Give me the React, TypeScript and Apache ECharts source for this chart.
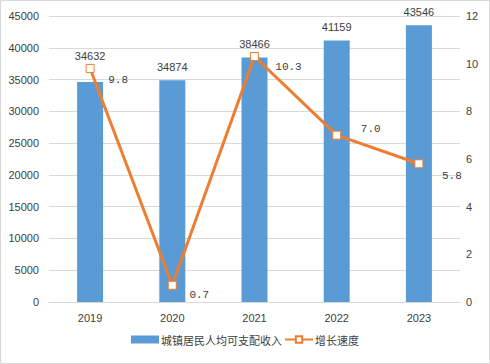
import React, { useEffect, useRef } from "react";
import * as echarts from "echarts";

const years = ["2019", "2020", "2021", "2022", "2023"];
const income = [34632, 34874, 38466, 41159, 43546];
const growth = [9.8, 0.7, 10.3, 7.0, 5.8];
const incomeName = "城镇居民人均可支配收入";
const growthName = "增长速度";

// label layout tweaks (styles, not data)
const barLabelOffsets = [[0, -12], [0, 0], [0, 0], [0, 0], [0, 0]];
const lineLabelOffsets = [[28, 12], [27, 10], [34, 10], [34, -6], [33, 12]];

const TEXT = "#404040";
const GRID = "#d9d9d9";
const BLUE = "#5B9BD5";
const ORANGE = "#ED7D31";
const FONT = "'Liberation Sans', 'Noto Sans CJK SC', sans-serif";

export default function App() {
  const ref = useRef<HTMLDivElement>(null);
  useEffect(() => {
    if (!ref.current) return;
    const chart = echarts.init(ref.current, undefined, { renderer: "svg" });
    chart.setOption({
      animation: false,
      backgroundColor: "#ffffff",
      textStyle: { fontFamily: FONT, color: TEXT },
      graphic: [
        {
          type: "rect",
          shape: { x: 0.5, y: 0.5, width: 489, height: 363 },
          style: { fill: "none", stroke: GRID, lineWidth: 1 },
          silent: true,
          z: 100,
        },
      ],
      grid: { left: 49, right: 30, top: 16, bottom: 62, containLabel: false },
      legend: {
        bottom: 14,
        left: "center",
        itemGap: 2,
        itemWidth: 28,
        itemHeight: 8,
        textStyle: { fontSize: 11, color: TEXT, fontFamily: "'Noto Sans CJK SC', sans-serif", padding: [0, 0, 0, -3] },
        data: [
          { name: incomeName, icon: "rect" },
          { name: growthName },
        ],
      },
      xAxis: {
        type: "category",
        data: years,
        axisLine: { lineStyle: { color: GRID, width: 1 } },
        axisTick: { show: false },
        axisLabel: { color: TEXT, fontSize: 11, margin: 10 },
      },
      yAxis: [
        {
          type: "value",
          min: 0,
          max: 45000,
          interval: 5000,
          axisLine: { show: false },
          axisTick: { show: false },
          axisLabel: { color: TEXT, fontSize: 11, margin: 10, formatter: (v: number) => String(v) },
          splitLine: { lineStyle: { color: GRID, width: 1 } },
        },
        {
          type: "value",
          min: 0,
          max: 12,
          interval: 2,
          axisLine: { show: false },
          axisTick: { show: false },
          axisLabel: { color: TEXT, fontSize: 11, margin: 6, formatter: (v: number) => String(v) },
          splitLine: { show: false },
        },
      ],
      series: [
        {
          name: incomeName,
          type: "bar",
          yAxisIndex: 0,
          barWidth: 26,
          itemStyle: { color: BLUE },
          data: income.map((v, i) => ({
            value: v,
            label: { offset: barLabelOffsets[i] },
          })),
          label: {
            show: true,
            position: "top",
            distance: 8,
            color: TEXT,
            fontSize: 11,
          },
          z: 2,
        },
        {
          name: growthName,
          type: "line",
          yAxisIndex: 1,
          symbol: "rect",
          symbolSize: 8,
          showAllSymbol: true,
          lineStyle: { color: ORANGE, width: 3 },
          itemStyle: { color: "#ffffff", borderColor: ORANGE, borderWidth: 1 },
          data: growth.map((v, i) => ({
            value: v,
            label: { offset: lineLabelOffsets[i] },
          })),
          label: {
            show: true,
            position: "inside",
            color: TEXT,
            fontSize: 11,
            fontFamily: "'Liberation Mono', monospace",
            formatter: (p: any) => Number(p.value).toFixed(1),
          },
          z: 3,
        },
      ],
    });
    return () => chart.dispose();
  }, []);
  return (
    <div style={{ position: "absolute", left: 0, top: 0, width: 490, height: 364 }}>
      <div ref={ref} style={{ width: 490, height: 364 }} />
    </div>
  );
}
